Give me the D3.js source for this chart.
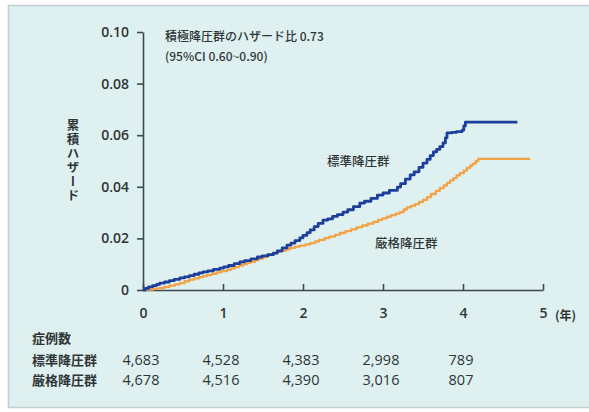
<!DOCTYPE html>
<html>
<head>
<meta charset="utf-8">
<script src="https://cdn.jsdelivr.net/npm/d3@7"></script>
<style>
  html, body { margin: 0; padding: 0; background: #ffffff; }
  svg { display: block; }
  text { font-family: "Noto Sans CJK JP", "Noto Sans", sans-serif; fill: #2f3536; }
</style>
</head>
<body>
<svg id="chart" width="589" height="412"></svg>
<script>
// Cumulative hazard, standard treatment group (years, hazard)
const standardTimes = [0.00, 0.03, 0.07, 0.12, 0.17, 0.21, 0.27, 0.33, 0.39, 0.46, 0.52, 0.58,
  0.64, 0.70, 0.75, 0.81, 0.88, 0.96, 1.01, 1.07, 1.14, 1.21, 1.27, 1.35, 1.43, 1.49, 1.56,
  1.63, 1.68, 1.74, 1.80, 1.85, 1.90, 1.96, 2.00, 2.05, 2.09, 2.14, 2.19, 2.25, 2.31, 2.37,
  2.43, 2.50, 2.56, 2.63, 2.71, 2.77, 2.85, 2.93, 3.00, 3.08, 3.18, 3.22, 3.28, 3.34, 3.39,
  3.45, 3.50, 3.55, 3.59, 3.63, 3.67, 3.71, 3.75, 3.78, 3.80, 3.86, 3.92, 3.99, 4.01, 4.03, 4.68];
const standardHazard = [0.0000, 0.0006, 0.0012, 0.0017, 0.0022, 0.0027, 0.0031, 0.0036, 0.0041,
  0.0047, 0.0051, 0.0056, 0.0061, 0.0066, 0.0070, 0.0074, 0.0080, 0.0085, 0.0090, 0.0095,
  0.0102, 0.0109, 0.0114, 0.0121, 0.0128, 0.0132, 0.0137, 0.0143, 0.0152, 0.0163, 0.0174,
  0.0182, 0.0191, 0.0202, 0.0212, 0.0222, 0.0233, 0.0246, 0.0258, 0.0271, 0.0276, 0.0285,
  0.0292, 0.0302, 0.0311, 0.0323, 0.0337, 0.0344, 0.0355, 0.0368, 0.0376, 0.0386, 0.0399,
  0.0412, 0.0430, 0.0446, 0.0458, 0.0475, 0.0492, 0.0506, 0.0521, 0.0535, 0.0545, 0.0556,
  0.0570, 0.0590, 0.0609, 0.0611, 0.0614, 0.0620, 0.0636, 0.0651, 0.0651];

// Cumulative hazard, intensive treatment group (years, hazard)
const intensiveTimes = [0.00, 0.06, 0.13, 0.21, 0.27, 0.33, 0.40, 0.46, 0.52, 0.58, 0.64, 0.70,
  0.75, 0.80, 0.86, 0.92, 0.98, 1.05, 1.10, 1.15, 1.20, 1.25, 1.30, 1.34, 1.40, 1.45, 1.50,
  1.55, 1.59, 1.63, 1.68, 1.73, 1.79, 1.84, 1.90, 1.96, 2.03, 2.09, 2.15, 2.20, 2.27, 2.33,
  2.40, 2.46, 2.53, 2.60, 2.67, 2.74, 2.81, 2.88, 2.94, 2.99, 3.05, 3.10, 3.16, 3.21, 3.26,
  3.30, 3.35, 3.40, 3.45, 3.50, 3.55, 3.60, 3.66, 3.71, 3.76, 3.80, 3.84, 3.88, 3.92, 3.96,
  4.01, 4.05, 4.09, 4.12, 4.16, 4.19, 4.84];
const intensiveHazard = [0.0000, 0.0002, 0.0005, 0.0008, 0.0012, 0.0017, 0.0022, 0.0027, 0.0034,
  0.0040, 0.0045, 0.0050, 0.0054, 0.0058, 0.0063, 0.0068, 0.0073, 0.0078, 0.0084, 0.0089,
  0.0095, 0.0100, 0.0105, 0.0109, 0.0116, 0.0122, 0.0128, 0.0134, 0.0139, 0.0143, 0.0148,
  0.0153, 0.0158, 0.0163, 0.0168, 0.0172, 0.0177, 0.0182, 0.0188, 0.0194, 0.0201, 0.0207,
  0.0214, 0.0221, 0.0228, 0.0235, 0.0243, 0.0250, 0.0257, 0.0264, 0.0272, 0.0278, 0.0284,
  0.0290, 0.0296, 0.0302, 0.0312, 0.0320, 0.0326, 0.0333, 0.0341, 0.0349, 0.0360, 0.0372,
  0.0384, 0.0395, 0.0405, 0.0415, 0.0425, 0.0434, 0.0444, 0.0453, 0.0463, 0.0473, 0.0482,
  0.0490, 0.0499, 0.0508, 0.0508];

// Axis ticks
const xTicks = [0, 1, 2, 3, 4, 5];
const yTicks = [0, 0.02, 0.04, 0.06, 0.08, 0.10];
const yTickLabels = ["0", "0.02", "0.04", "0.06", "0.08", "0.10"];

// Number at risk table
const riskTitle = "症例数";
const groupNames = ["標準降圧群", "厳格降圧群"];
const riskYears = [0, 1, 2, 3, 4];
const riskStandard = ["4,683", "4,528", "4,383", "2,998", "789"];
const riskIntensive = ["4,678", "4,516", "4,390", "3,016", "807"];

const yAxisTitle = "累積ハザード";
const xUnit = "(年)";
const hrLine1 = "積極降圧群のハザード比 0.73";
const hrLine2 = "(95%CI 0.60~0.90)";

const colorStandard = "#1c3f9c";
const colorIntensive = "#f2a346";
const axisColor = "#3b4a4a";
const numFont = "'Open Sans', 'Noto Sans', sans-serif";

const svg = d3.select("#chart");

// Panel background
svg.append("rect")
  .attr("x", 8.5).attr("y", 5.5)
  .attr("width", 590).attr("height", 402)
  .attr("fill", "#def0f0")
  .attr("stroke", "#c5cfcf")
  .attr("stroke-width", 1.5);

const x = d3.scaleLinear().domain([0, 5]).range([143, 543]);
const y = d3.scaleLinear().domain([0, 0.10]).range([290, 32]);

// Y axis
const yAxis = d3.axisLeft(y)
  .tickValues(yTicks)
  .tickFormat((d, i) => yTickLabels[i])
  .tickSize(6)
  .tickPadding(8)
  .tickSizeOuter(0);
const gy = svg.append("g").attr("transform", `translate(${x(0)},0)`).call(yAxis);
gy.select(".domain").attr("stroke", axisColor).attr("stroke-width", 1.6);
gy.selectAll(".tick line").attr("stroke", axisColor).attr("stroke-width", 1.6);
gy.selectAll(".tick text")
  .attr("font-size", 14).attr("font-weight", 600)
  .style("font-family", numFont)
  .attr("fill", "#3a3f40");

// X axis, ticks pointing up into the plot
const xAxis = d3.axisBottom(x)
  .tickValues(xTicks)
  .tickFormat(d3.format("d"))
  .tickSize(-6)
  .tickPadding(18)
  .tickSizeOuter(0);
const gx = svg.append("g").attr("transform", `translate(0,${y(0)})`).call(xAxis);
gx.select(".domain").attr("stroke", axisColor).attr("stroke-width", 1.6);
gx.selectAll(".tick text")
  .attr("font-size", 14).attr("font-weight", 600)
  .style("font-family", numFont)
  .attr("fill", "#3a3f40");
gx.selectAll(".tick line").attr("stroke", axisColor).attr("stroke-width", 1.6);

svg.append("text")
  .attr("x", 555).attr("y", 317)
  .attr("dominant-baseline", "middle")
  .attr("font-size", 12).attr("font-weight", 700)
  .text(xUnit);

// Y axis title, written vertically
svg.append("text")
  .attr("x", 73).attr("y", 161)
  .attr("text-anchor", "middle")
  .attr("font-size", 12.5)
  .attr("font-weight", 700)
  .style("writing-mode", "vertical-rl")
  .style("text-orientation", "upright")
  .style("letter-spacing", "1.5px")
  .text(yAxisTitle);

// Step curves
const stepLine = d3.line()
  .x(d => x(d[0]))
  .y(d => y(d[1]))
  .curve(d3.curveStepAfter);

const intensiveData = intensiveTimes.map((t, i) => [t, intensiveHazard[i]]);
const standardData = standardTimes.map((t, i) => [t, standardHazard[i]]);

svg.append("path")
  .datum(intensiveData)
  .attr("fill", "none")
  .attr("stroke", colorIntensive)
  .attr("stroke-width", 2.3)
  .attr("stroke-linejoin", "round")
  .attr("d", stepLine);

svg.append("path")
  .datum(standardData)
  .attr("fill", "none")
  .attr("stroke", colorStandard)
  .attr("stroke-width", 2.8)
  .attr("stroke-linejoin", "round")
  .attr("d", stepLine);

// Series labels
svg.append("text")
  .attr("x", 327).attr("y", 163)
  .attr("dominant-baseline", "middle")
  .attr("font-size", 12.5).attr("font-weight", 500)
  .text(groupNames[0]);
svg.append("text")
  .attr("x", 375).attr("y", 245)
  .attr("dominant-baseline", "middle")
  .attr("font-size", 12.5).attr("font-weight", 500)
  .text(groupNames[1]);

// Hazard ratio note
svg.append("text")
  .attr("x", 165).attr("y", 38)
  .attr("dominant-baseline", "middle")
  .attr("font-size", 12).attr("font-weight", 500)
  .text(hrLine1);
svg.append("text")
  .attr("x", 165).attr("y", 58)
  .attr("dominant-baseline", "middle")
  .attr("font-size", 12).attr("font-weight", 500)
  .text(hrLine2);

// Number at risk table
svg.append("text")
  .attr("x", 32).attr("y", 339)
  .attr("dominant-baseline", "middle")
  .attr("font-size", 13).attr("font-weight", 700)
  .text(riskTitle);

const rows = [riskStandard, riskIntensive];
const rowY = [361, 381];
rows.forEach((vals, r) => {
  svg.append("text")
    .attr("x", 32).attr("y", rowY[r])
    .attr("dominant-baseline", "middle")
    .attr("font-size", 13).attr("font-weight", 700)
    .text(groupNames[r]);
  svg.selectAll(null)
    .data(vals)
    .enter()
    .append("text")
    .attr("x", (d, i) => x(riskYears[i]) - 2)
    .attr("y", rowY[r])
    .attr("text-anchor", "middle")
    .attr("dominant-baseline", "middle")
    .attr("font-size", 14.5).attr("font-weight", 500)
    .style("font-family", numFont)
    .text(d => d);
});
</script>
</body>
</html>
